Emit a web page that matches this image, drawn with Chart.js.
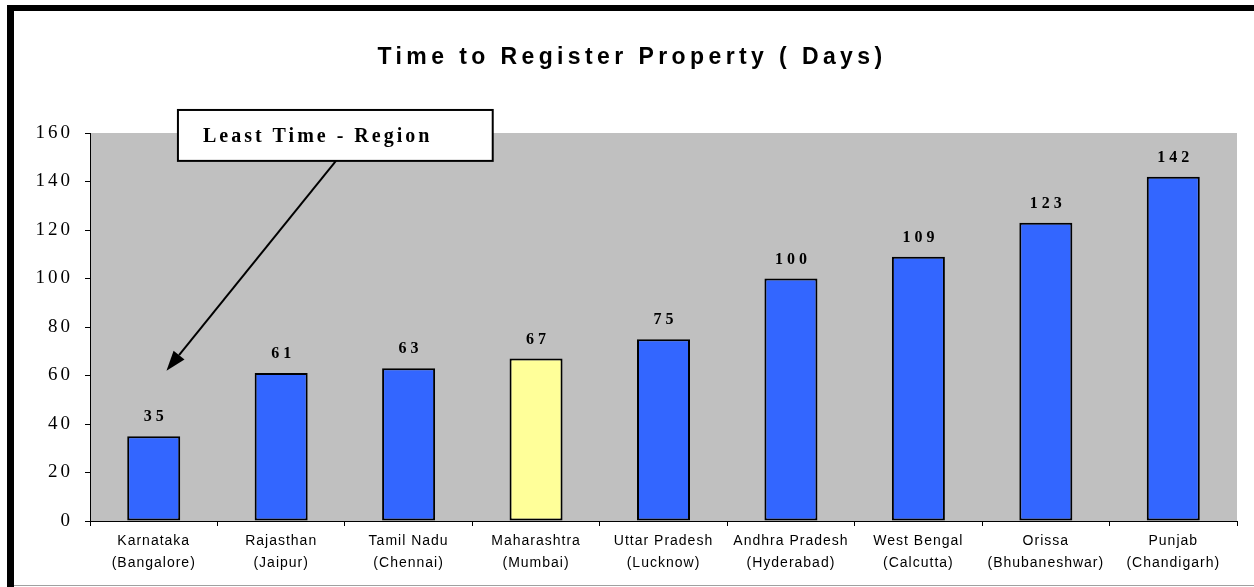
<!DOCTYPE html>
<html>
<head>
<meta charset="utf-8">
<script src="https://cdn.jsdelivr.net/npm/chart.js@4.4.1/dist/chart.umd.min.js"></script>
<style>
  html, body { margin: 0; padding: 0; background: #fff; }
  #wrap { width: 1254px; height: 587px; position: relative; }
</style>
</head>
<body>
<div id="wrap"><canvas id="chart"></canvas></div>
<script>
const regions = [
  ['Karnataka', '(Bangalore)'],
  ['Rajasthan', '(Jaipur)'],
  ['Tamil Nadu', '(Chennai)'],
  ['Maharashtra', '(Mumbai)'],
  ['Uttar Pradesh', '(Lucknow)'],
  ['Andhra Pradesh', '(Hyderabad)'],
  ['West Bengal', '(Calcutta)'],
  ['Orissa', '(Bhubaneshwar)'],
  ['Punjab', '(Chandigarh)']
];
const days = [35, 61, 63, 67, 75, 100, 109, 123, 142];
const highlight = 'Maharashtra';
const yTicks = [0, 20, 40, 60, 80, 100, 120, 140, 160];

const titleText = 'Time to Register Property ( Days)';
const noteText = 'Least Time - Region';
// callout box and arrow, in data units (category index, days)
const noteBox = { x0: 0.19, x1: 2.66, y0: 148.5, y1: 169.5 };
const noteArrow = { fromX: 1.43, fromY: 148.5, toX: 0.10, toY: 62 };

const blue = '#3366FF';
const yellow = '#FFFF99';

// draw a scale with some letter spacing (the original is spaced out)
function spacedDraw(spacing) {
  return function (area) {
    const ctx = this.ctx;
    ctx.save();
    ctx.letterSpacing = spacing;
    Chart.Scale.prototype.draw.call(this, area);
    ctx.restore();
  };
}

const frame = {
  id: 'frame',
  beforeDraw(chart) {
    const ctx = chart.ctx;
    ctx.save();
    ctx.fillStyle = '#fff';
    ctx.fillRect(0, 0, chart.width, chart.height);
    // grey plot background
    const a = chart.chartArea;
    ctx.fillStyle = '#C0C0C0';
    ctx.fillRect(a.left, a.top, a.right - a.left, a.bottom - a.top);
    // black frame top and left, thin grey at bottom
    ctx.fillStyle = '#000';
    ctx.fillRect(7, 5, chart.width - 7, 6);
    ctx.fillRect(7, 5, 7, chart.height - 5);
    ctx.fillStyle = '#a0a0a0';
    ctx.fillRect(14, chart.height - 2, chart.width - 14, 1);
    ctx.restore();
  },
  afterDraw(chart) {
    const ctx = chart.ctx;
    const x = chart.scales.x, y = chart.scales.y;
    ctx.save();

    // title
    ctx.font = 'bold 23px "Liberation Sans", Arial, sans-serif';
    ctx.letterSpacing = '4.4px';
    ctx.fillStyle = '#000';
    ctx.textAlign = 'center';
    ctx.textBaseline = 'middle';
    ctx.fillText(titleText, 632, 58);

    // value labels
    ctx.font = 'bold 16px "Liberation Serif", "Times New Roman", serif';
    ctx.letterSpacing = '4px';
    chart.getDatasetMeta(0).data.forEach((bar, i) => {
      ctx.fillText(String(days[i]), bar.x + 2, bar.y - 19);
    });

    // callout arrow
    const ax0 = x.getPixelForValue(noteArrow.fromX), ay0 = y.getPixelForValue(noteArrow.fromY);
    const ax1 = x.getPixelForValue(noteArrow.toX), ay1 = y.getPixelForValue(noteArrow.toY);
    const ang = Math.atan2(ay1 - ay0, ax1 - ax0);
    const headLen = 20, headW = 7;
    const bx = ax1 - headLen * Math.cos(ang), by = ay1 - headLen * Math.sin(ang);
    ctx.strokeStyle = '#000';
    ctx.lineWidth = 2;
    ctx.beginPath();
    ctx.moveTo(ax0, ay0);
    ctx.lineTo(bx, by);
    ctx.stroke();
    ctx.beginPath();
    ctx.moveTo(ax1, ay1);
    ctx.lineTo(bx + headW * Math.sin(ang), by - headW * Math.cos(ang));
    ctx.lineTo(bx - headW * Math.sin(ang), by + headW * Math.cos(ang));
    ctx.closePath();
    ctx.fillStyle = '#000';
    ctx.fill();

    // callout box, text sits left of centre like the original
    const l = x.getPixelForValue(noteBox.x0), r = x.getPixelForValue(noteBox.x1);
    const t = y.getPixelForValue(noteBox.y1), b = y.getPixelForValue(noteBox.y0);
    ctx.fillStyle = '#fff';
    ctx.fillRect(l, t, r - l, b - t);
    ctx.lineWidth = 2;
    ctx.strokeRect(l, t, r - l, b - t);
    ctx.fillStyle = '#000';
    ctx.font = 'bold 20px "Liberation Serif", "Times New Roman", serif';
    ctx.letterSpacing = '3px';
    ctx.textAlign = 'left';
    ctx.fillText(noteText, l + 25, (t + b) / 2 + 1);
    ctx.restore();
  }
};

new Chart(document.getElementById('chart'), {
  type: 'bar',
  data: {
    labels: regions,
    datasets: [{
      label: 'Days',
      data: days,
      backgroundColor: regions.map(r => r[0] === highlight ? yellow : blue),
      borderColor: '#000',
      borderWidth: 2,
      borderSkipped: false,
      categoryPercentage: 1,
      barPercentage: 0.416
    }]
  },
  options: {
    responsive: true,
    maintainAspectRatio: false,
    animation: false,
    events: [],
    layout: { padding: { top: 133, left: 17, right: 17, bottom: 0 } },
    plugins: {
      legend: { display: false },
      title: { display: false },
      tooltip: { enabled: false }
    },
    scales: {
      x: {
        offset: true,
        grid: {
          offset: true,
          drawOnChartArea: false,
          tickLength: 5,
          tickColor: '#000'
        },
        border: { color: '#000', width: 1 },
        ticks: {
          color: '#000',
          autoSkip: false,
          maxRotation: 0,
          padding: 4,
          font: { family: '"Liberation Sans", Arial, sans-serif', size: 14, lineHeight: 1.57 }
        },
        afterFit(s) { s.height = 66; s.draw = spacedDraw('1px'); }
      },
      y: {
        min: 0,
        max: 160,
        afterBuildTicks(s) { s.ticks = yTicks.map(v => ({ value: v })); },
        grid: {
          drawOnChartArea: false,
          tickLength: 5,
          tickColor: '#000'
        },
        border: { color: '#000', width: 1 },
        ticks: {
          color: '#000',
          padding: 12,
          font: { family: '"Liberation Serif", "Times New Roman", serif', size: 19 }
        },
        afterFit(s) { s.width = 73; s.draw = spacedDraw('3px'); }
      }
    }
  },
  plugins: [frame]
});
</script>
</body>
</html>
